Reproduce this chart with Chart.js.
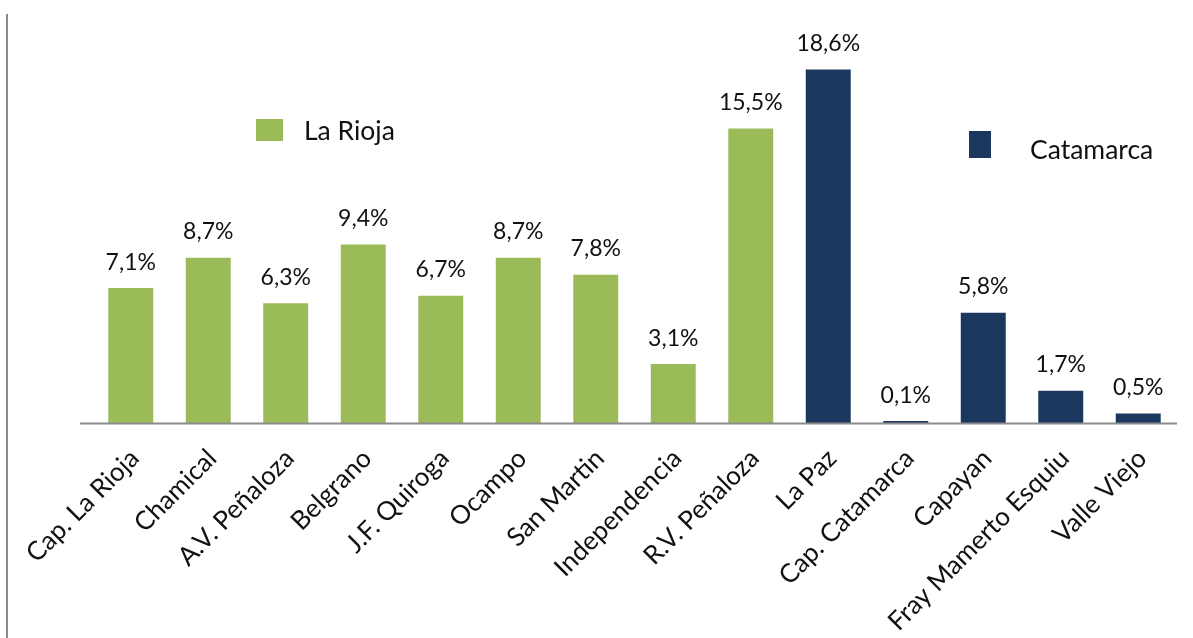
<!DOCTYPE html>
<html><head><meta charset="utf-8">
<script src="https://cdn.jsdelivr.net/npm/chart.js@4/dist/chart.umd.min.js"></script>
<style>
html,body{margin:0;padding:0;background:#fff;}
#wrap{position:relative;width:1193px;height:638px;}
#vline{position:absolute;left:6px;top:14px;width:2px;height:624px;background:#8c8c8c;}
canvas{position:absolute;left:0;top:0;}
</style></head>
<body><div id="wrap"><div id="vline"></div><canvas id="c" width="1193" height="638"></canvas></div>
<script>
const categories = ["Cap. La Rioja","Chamical","A.V. Peñaloza","Belgrano","J.F. Quiroga","Ocampo","San Martin","Independencia","R.V. Peñaloza","La Paz","Cap. Catamarca","Capayan","Fray Mamerto Esquiu","Valle Viejo"];
const laRioja = [7.1,8.7,6.3,9.4,6.7,8.7,7.8,3.1,15.5,null,null,null,null,null];
const catamarca = [null,null,null,null,null,null,null,null,null,18.6,0.1,5.8,1.7,0.5];
const seriesNames = ["La Rioja","Catamarca"];
const colors = ["#9BBB59","#1B375D"];

const FONT = "Lato, 'Open Sans', sans-serif";

const labelPlugin = {
  id:'vals',
  afterDatasetsDraw(chart){
    const ctx = chart.ctx;
    ctx.save();
    ctx.font = "23px " + FONT;
    ctx.fillStyle = "#111";
    ctx.textAlign = "center";
    ctx.textBaseline = "middle";
    chart.data.datasets.forEach((ds,i)=>{
      const meta = chart.getDatasetMeta(i);
      meta.data.forEach((bar,j)=>{
        const v = ds.data[j];
        if(v==null) return;
        ctx.fillText(v.toFixed(1).replace('.',',')+'%', bar.x, bar.y-26);
      });
    });
    ctx.restore();
  }
};

const legendPlugin = {
  id:'customLegend',
  afterDraw(chart){
    const ctx = chart.ctx;
    const a = chart.chartArea;
    const items = [
      {sx:a.left+164, sy:119, sw:27, sh:22, tx:a.left+212, ty:131},
      {sx:a.left+877, sy:131, sw:22, sh:27, tx:a.left+938, ty:150}
    ];
    ctx.save();
    ctx.font = "26.5px " + FONT;
    ctx.textBaseline = "middle";
    ctx.textAlign = "left";
    chart.data.datasets.forEach((ds,i)=>{
      const it = items[i];
      ctx.fillStyle = ds.backgroundColor;
      ctx.fillRect(it.sx,it.sy,it.sw,it.sh);
      ctx.fillStyle = "#111";
      ctx.fillText(ds.label, it.tx, it.ty);
    });
    ctx.restore();
  }
};

const axisPlugin = {
  id:'axisLine',
  afterDatasetsDraw(chart){
    const ctx = chart.ctx, a = chart.chartArea;
    ctx.save();
    ctx.strokeStyle = "#8c8c8c";
    ctx.lineWidth = 2;
    ctx.beginPath();
    ctx.moveTo(a.left-12, a.bottom+0.5);
    ctx.lineTo(a.right, a.bottom+0.5);
    ctx.stroke();
    ctx.restore();
  }
};

new Chart(document.getElementById('c'), {
  type:'bar',
  data:{
    labels:categories,
    datasets:[
      {label:seriesNames[0], data:laRioja, backgroundColor:colors[0]},
      {label:seriesNames[1], data:catamarca, backgroundColor:colors[1]}
    ]
  },
  options:{
    responsive:false,
    animation:false,
    devicePixelRatio:1,
    datasets:{bar:{grouped:false, categoryPercentage:1, barPercentage:0.58}},
    layout:{padding:{left:92, right:16, top:43, bottom:0}},
    plugins:{legend:{display:false}, tooltip:{enabled:false}},
    scales:{
      x:{
        grid:{display:false, drawTicks:false},
        border:{display:false},
        ticks:{autoSkip:false, maxRotation:45, minRotation:45, color:"#111", font:{family:FONT, size:26}, padding:20, labelOffset:4},
        afterFit(s){ s.height = 215; s.paddingLeft = 0; s.paddingRight = 0; }
      },
      y:{display:false, min:0, max:20}
    }
  },
  plugins:[labelPlugin, legendPlugin, axisPlugin]
});
</script>
</body></html>
